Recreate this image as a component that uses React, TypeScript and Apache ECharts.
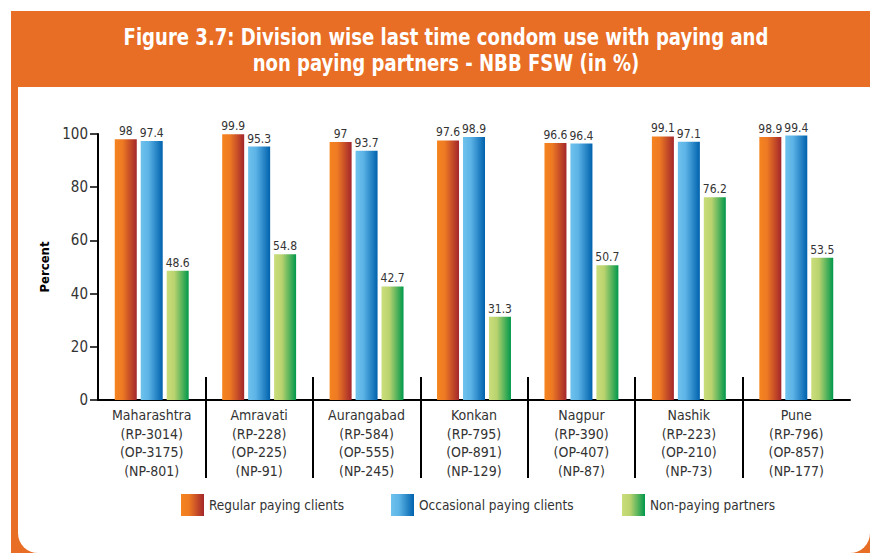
import React, { useEffect, useRef } from "react";
import * as echarts from "echarts";

const categories = ["Maharashtra", "Amravati", "Aurangabad", "Konkan", "Nagpur", "Nashik", "Pune"];
const rpCounts = [3014, 228, 584, 795, 390, 223, 796];
const opCounts = [3175, 225, 555, 891, 407, 210, 857];
const npCounts = [801, 91, 245, 129, 87, 73, 177];
const regularPaying = [98, 99.9, 97, 97.6, 96.6, 99.1, 98.9];
const occasionalPaying = [97.4, 95.3, 93.7, 98.9, 96.4, 97.1, 99.4];
const nonPaying = [48.6, 54.8, 42.7, 31.3, 50.7, 76.2, 53.5];
const yTicks = { min: 0, max: 100, interval: 20 };
const seriesNames = ["Regular paying clients", "Occasional paying clients", "Non-paying partners"];
const titleText = "Figure 3.7: Division wise last time condom use with paying and\nnon paying partners - NBB FSW (in %)";

const FONT = "'Liberation Sans Narrow', 'DejaVu Sans Condensed', 'Roboto Condensed', 'Arial Narrow', Roboto, sans-serif";

const grad = (stops: [number, string][]) =>
  new echarts.graphic.LinearGradient(0, 0, 1, 0, stops.map(([offset, color]) => ({ offset, color })));

const gradients = [
  grad([[0, "#F5841F"], [0.35, "#EE7A23"], [1, "#A3262B"]]),
  grad([[0, "#6EC2EC"], [0.35, "#5CB3E6"], [1, "#0062AD"]]),
  grad([[0, "#CADE7B"], [0.35, "#BAD36F"], [1, "#00984B"]]),
];

const legendLefts = [181, 391, 622];

export default function App() {
  const ref = useRef<HTMLDivElement>(null);
  useEffect(() => {
    if (!ref.current) return;
    const chart = echarts.init(ref.current, undefined, { renderer: "svg" });
    const xLabels = categories.map(
      (c, i) => `${c}\n(RP-${rpCounts[i]})\n(OP-${opCounts[i]})\n(NP-${npCounts[i]})`
    );
    const values = [regularPaying, occasionalPaying, nonPaying];
    chart.setOption({
      animation: false,
      textStyle: { fontFamily: FONT },
      graphic: [
        { type: "rect", z: -10, shape: { x: 11, y: 11, width: 870, height: 560 }, style: { fill: "#E86D25" }, silent: true },
        { type: "rect", z: -9, shape: { x: 18, y: 87, width: 852, height: 466, r: [0, 0, 20, 20] }, style: { fill: "#FFFFFF" }, silent: true },
        {
          type: "text",
          x: 446,
          y: 24,
          scaleX: 0.873,
          silent: true,
          style: {
            text: titleText,
            fill: "#FFFFFF",
            fontSize: 23,
            fontWeight: "bold",
            lineHeight: 26,
            fontFamily: FONT,
            align: "center",
            verticalAlign: "top",
          },
        },
      ],
      legend: seriesNames.map((name, i) => ({
        data: [name],
        left: legendLefts[i],
        top: 494,
        padding: 0,
        itemWidth: 23,
        itemHeight: 22,
        itemGap: 0,
        icon: "rect",
        textStyle: { fontSize: 13.5, color: "#333", fontFamily: FONT },
      })),
      grid: [
        { left: 98, right: 20, top: 134, bottom: 153 },
        { left: 98, right: 20, top: 377, height: 101 },
      ],
      xAxis: [
        {
          type: "category",
          gridIndex: 0,
          data: xLabels,
          axisLine: { lineStyle: { color: "#000", width: 2 } },
          axisTick: { show: false },
          axisLabel: { color: "#333", fontSize: 14, lineHeight: 18.5, margin: 6, interval: 0, fontFamily: FONT },
        },
        {
          type: "value",
          gridIndex: 1,
          min: 0,
          max: categories.length,
          interval: 1,
          axisLine: { show: false },
          axisTick: { show: false },
          axisLabel: { show: false },
          splitLine: { show: true, showMinLine: false, showMaxLine: false, lineStyle: { color: "#000", width: 2 } },
        },
      ],
      yAxis: [
        {
          type: "value",
          gridIndex: 0,
          min: yTicks.min,
          max: yTicks.max,
          interval: yTicks.interval,
          name: "Percent",
          nameLocation: "middle",
          nameGap: 43,
          nameRotate: 90,
          nameTextStyle: { fontWeight: "bold", fontSize: 13, color: "#000", fontFamily: FONT },
          axisLine: { show: true, lineStyle: { color: "#000", width: 2 } },
          axisTick: { show: true, length: 8, lineStyle: { color: "#000", width: 1.5 } },
          axisLabel: { color: "#333", fontSize: 15, margin: 10, fontFamily: FONT },
          splitLine: { show: false },
        },
        { type: "value", gridIndex: 1, show: false, min: 0, max: 1 },
      ],
      series: seriesNames.map((name, si) => ({
        name,
        type: "bar",
        xAxisIndex: 0,
        yAxisIndex: 0,
        data: values[si],
        barWidth: 22,
        barGap: "18%",
        itemStyle: { color: gradients[si] },
        label: {
          show: true,
          position: "top",
          distance: 2,
          fontSize: 12,
          color: "#333",
          fontFamily: FONT,
        },
      })),
    });
    return () => chart.dispose();
  }, []);
  return <div ref={ref} style={{ position: "absolute", left: 0, top: 0, width: 870, height: 553 }} />;
}
